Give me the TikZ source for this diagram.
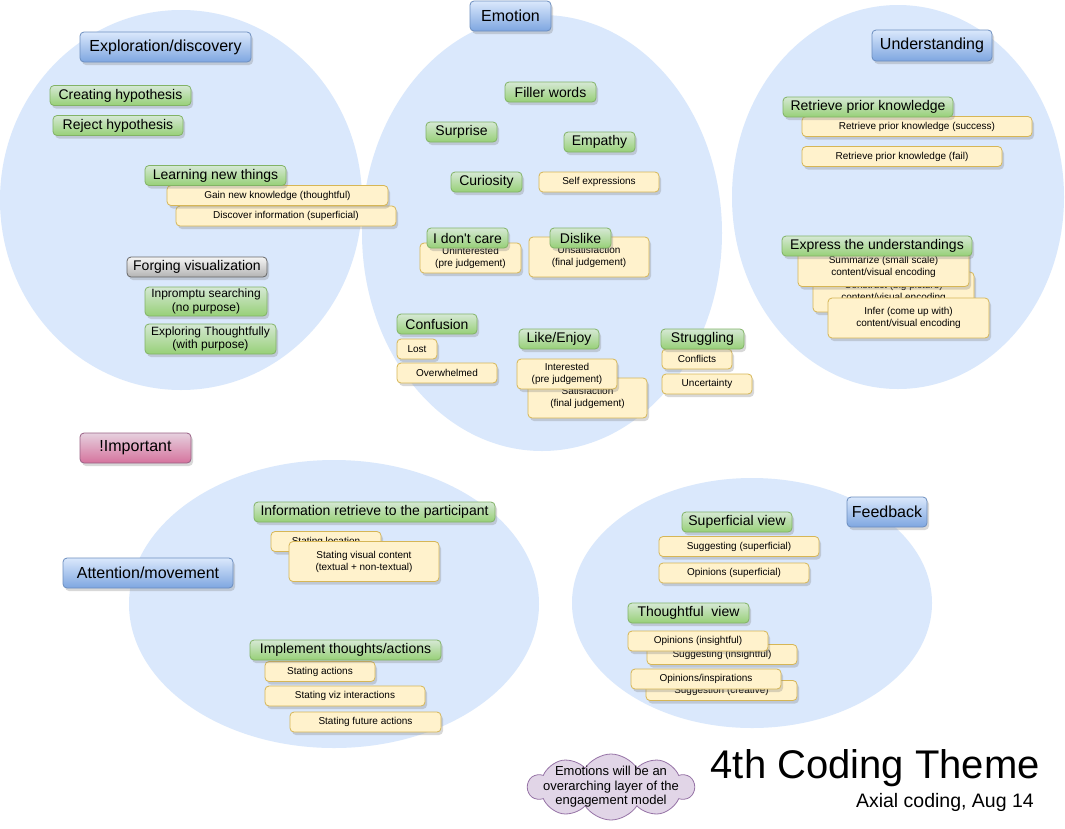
\documentclass[tikz,border=0pt]{standalone}
\usepackage{fontspec}
\setmainfont{Liberation Sans}
\usetikzlibrary{shapes.symbols,shadows,positioning}
\definecolor{bubble}{HTML}{DAE8FC}
\definecolor{themetop}{HTML}{DAE8FC}
\definecolor{themebot}{HTML}{7EA6E0}
\definecolor{themeline}{HTML}{6C8EBF}
\definecolor{codetop}{HTML}{D5E8D4}
\definecolor{codebot}{HTML}{97D077}
\definecolor{codeline}{HTML}{82B366}
\definecolor{notefill}{HTML}{FFF2CC}
\definecolor{noteline}{HTML}{D6B656}
\definecolor{flagtop}{HTML}{E6D0DE}
\definecolor{flagbot}{HTML}{D5739D}
\definecolor{flagline}{HTML}{996185}
\definecolor{greytop}{HTML}{F5F5F5}
\definecolor{greybot}{HTML}{B3B3B3}
\definecolor{greyline}{HTML}{666666}
\definecolor{cloudfill}{HTML}{E1D5E7}
\definecolor{cloudline}{HTML}{9673A6}

\begin{document}
\begin{tikzpicture}[x=1pt, y=-1pt,
  box/.style={rounded corners=4pt, line width=0.8pt, inner sep=0pt, align=center,
    drop shadow={shadow xshift=2pt, shadow yshift=-3pt, opacity=0.3, fill=gray}},
  sz/.style 2 args={minimum width=#1pt, minimum height=#2pt},
  theme/.style={box, draw=themeline, top color=themetop, bottom color=themebot, font=\fontsize{16}{18}\selectfont},
  flag/.style={box, draw=flagline, top color=flagtop, bottom color=flagbot, font=\fontsize{16}{18}\selectfont},
  grey/.style={box, draw=greyline, top color=greytop, bottom color=greybot, font=\fontsize{14}{16}\selectfont},
  code/.style={box, draw=codeline, top color=codetop, bottom color=codebot, font=\fontsize{14}{16}\selectfont},
  code2/.style={code, font=\fontsize{12}{13.5}\selectfont},
  note/.style={box, draw=noteline, fill=notefill, font=\fontsize{10}{12}\selectfont},
]
\fill[white] (0,0) rectangle (1065,828);
\useasboundingbox (0,0) rectangle (1065,828);

\fill[bubble] (181,200) ellipse [x radius=181pt, y radius=190pt];
\fill[bubble] (542,233) ellipse [x radius=180pt, y radius=218pt];
\fill[bubble] (898,197) ellipse [x radius=166pt, y radius=192pt];
\fill[bubble] (334,604) ellipse [x radius=205pt, y radius=144pt];
\fill[bubble] (752,603) ellipse [x radius=180pt, y radius=125pt];

\node[theme, sz={171}{30}] (explore) at (165.5,47) {Exploration/discovery};
\node[code, sz={141}{20}] (create) at (120.5,95.5) {Creating hypothesis};
\node[code, sz={130}{20}] (reject) at (118,125.5) {Reject hypothesis};
\node[note, sz={220}{20}] (discover) at (286,216) {Discover information (superficial)};
\node[note, sz={221}{20}] (gain) at (277.5,195.5) {Gain new knowledge (thoughtful)};
\node[code, sz={141}{20}] (learn) at (215.5,175.5) {Learning new things};
\node[grey, sz={140}{20}] (forge) at (197,267) {Forging visualization};
\node[code2, sz={122}{29}] (impromptu) at (206,301.5) {Inpromptu searching\\(no purpose)};
\node[code2, sz={131}{30}] (purpose) at (210.5,339) {Exploring Thoughtfully\\(with purpose)};

\node[theme, sz={81}{30}] (emotion) at (510.5,16) {Emotion};
\node[code, sz={91}{20}] (filler) at (550.5,92) {Filler words};
\node[code, sz={71}{20}] (surprise) at (461.5,132) {Surprise};
\node[code, sz={71}{20}] (empathy) at (599.5,142) {Empathy};
\node[code, sz={71}{20}] (curious) at (486.5,182) {Curiosity};
\node[note, sz={120}{20}] (selfexp) at (599,182) {Self expressions};
\node[note, sz={101}{30}] (unint) at (470.5,258) {Uninterested\\(pre judgement)};
\node[code, sz={81}{20}] (nocare) at (467.5,238) {I don\textquotesingle t care};
\node[note, sz={120}{40}] (unsat) at (589,257) {Unsatisfaction\\(final judgement)};
\node[code, sz={61}{20}] (dislike) at (580.5,238) {Dislike};
\node[code, sz={80}{20}] (confuse) at (437,324) {Confusion};
\node[note, sz={40}{20}] (lost) at (417,349) {Lost};
\node[note, sz={100}{20}] (overwhelm) at (447,373) {Overwhelmed};
\node[note, sz={119}{40}] (sat) at (587.5,398) {Satisfaction\\(final judgement)};
\node[note, sz={100}{30}] (int) at (567,374) {Interested\\(pre judgement)};
\node[code, sz={80}{20}] (like) at (559,339) {Like/Enjoy};
\node[note, sz={70}{20}] (conflict) at (697,359) {Conflicts};
\node[note, sz={90}{20}] (uncertain) at (707,384) {Uncertainty};
\node[code, sz={83}{20}] (struggle) at (702.5,339) {Struggling};

\node[theme, sz={120}{31}] (understand) at (932,45.5) {Understanding};
\node[note, sz={230}{20}] (success) at (917,126.5) {Retrieve prior knowledge (success)};
\node[code, sz={170}{20}] (retrieve) at (868,107) {Retrieve prior knowledge};
\node[note, sz={200}{20}] (fail) at (902,156.5) {Retrieve prior knowledge (fail)};
\node[note, sz={161}{40}] (construct) at (893.5,292) {Construct (big picture)\\content/visual encoding};
\node[note, sz={171}{40}] (summarize) at (883.5,266.5) {Summarize (small scale)\\content/visual encoding};
\node[note, sz={161}{40}] (infer) at (908.5,318) {Infer (come up with)\\content/visual encoding};
\node[code, sz={190}{20}] (express) at (877,246) {Express the understandings};

\node[flag, sz={111}{30}] (important) at (135.5,448) {!Important};

\node[theme, sz={170}{30}] (attention) at (148,573) {Attention/movement};
\node[code, sz={241}{20}] (inform) at (374.5,512) {Information retrieve to the participant};
\node[note, sz={110}{20}] (location) at (326,541.5) {Stating location};
\node[note, sz={150}{40}] (visual) at (364,561.5) {Stating visual content\\(textual + non-textual)};
\node[note, sz={110}{20}] (actions) at (320,671.5) {Stating actions};
\node[code, sz={191}{20}] (implement) at (345.5,650) {Implement thoughts/actions};
\node[note, sz={160}{20}] (vizint) at (345,696) {Stating viz interactions};
\node[note, sz={151}{20}] (future) at (365.5,722) {Stating future actions};

\node[theme, sz={80}{30}] (feedback) at (887,512) {Feedback};
\node[code, sz={110}{20}] (superficial) at (737,522) {Superficial view};
\node[note, sz={160}{20}] (sugsup) at (739,546.5) {Suggesting (superficial)};
\node[note, sz={150}{20}] (opsup) at (734,573) {Opinions (superficial)};
\node[code, sz={121}{20}] (thoughtful) at (688.5,613) {Thoughtful\ \ view};
\node[note, sz={150}{20}] (sugins) at (722,654.5) {Suggesting (insightful)};
\node[note, sz={140}{20}] (opins) at (698,641) {Opinions (insightful)};
\node[note, sz={151}{20}] (sugcre) at (721.5,690.5) {Suggestion (creative)};
\node[note, sz={150}{20}] (opinsp) at (706,679) {Opinions/inspirations};

\node[cloud, cloud puffs=10, cloud puff arc=115, aspect=2.4, draw=cloudline, fill=cloudfill,
  line width=0.8pt, minimum width=166pt, minimum height=66pt, inner sep=0pt] (layer) at (611,787) {};
\node[align=center, inner sep=0pt, font=\fontsize{13}{14.5}\selectfont] (layertext) at (layer.center)
  {Emotions will be an\\overarching layer of the\\engagement model};

\node[anchor=base east, inner sep=0pt, font=\fontsize{40}{44}\selectfont] (title) at (1040,778) {4th Coding Theme};
\node[anchor=base east, inner sep=0pt, font=\fontsize{19.5}{22}\selectfont] (subtitle) at (1034,807) {Axial coding, Aug 14};
\end{tikzpicture}
\end{document}
